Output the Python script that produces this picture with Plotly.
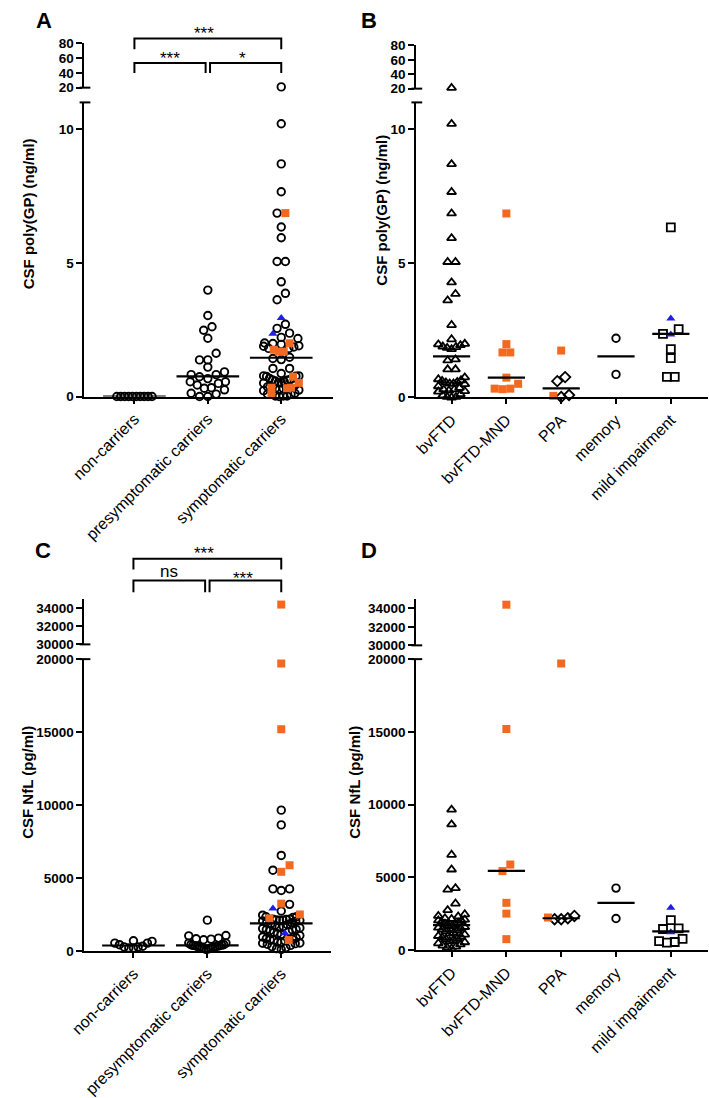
import plotly.graph_objects as go

# ---------------- data ----------------
carrier_cats = ["non-carriers", "presymptomatic carriers", "symptomatic carriers"]
pheno_cats = ["bvFTD", "bvFTD-MND", "PPA", "memory", "mild impairment"]

# CSF poly(GP) (ng/ml)
gp_noncarriers = [0, 0, 0, 0, 0, 0, 0, 0, 0, 0]
gp_presymptomatic = [3.98, 3.03, 2.61, 2.48, 2.18, 1.62, 1.37, 1.37, 1.10, 0.92, 0.82, 0.82,
                     0.74, 0.67, 0.55, 0.55, 0.49, 0.43, 0.33, 0.31, 0.25, 0.12, 0.09, 0.0, 0.0]
gp_bvftd = [21.0, 10.2, 8.70, 7.66, 6.86, 5.94, 5.05, 5.05, 4.29, 3.86, 3.62, 2.70, 2.17,
            2.00, 1.98, 1.95, 1.90, 1.88, 1.85, 1.80, 1.42, 1.38, 1.05, 1.05,
            0.75, 0.68, 0.62, 0.56, 0.52, 0.50, 0.52, 0.58, 0.64,
            0.42, 0.36, 0.30, 0.26, 0.22, 0.24, 0.30, 0.12, 0.08, 0.02, 0.0, 0.02]
gp_mnd = [6.86, 1.99, 1.68, 1.68, 0.74, 0.51, 0.33, 0.31, 0.33]
gp_ppa = [0.76, 0.61, 0.09, 0.02]
gp_ppa_mnd = [1.75, 0.06]
gp_memory = [2.21, 0.86]
gp_mild = [6.34, 2.55, 2.37, 1.80, 1.47, 0.77, 0.77]
gp_mild_tri = [2.94, 2.35]
gp_med_carriers = [0, 0.75, 1.45]
gp_med_pheno = [1.53, 0.74, 0.34, 1.53, 2.37]

# CSF NfL (pg/ml)
nfl_noncarriers = [720, 675, 560, 560, 450, 340, 300, 290, 225, 225]
nfl_presymptomatic = [2130, 1080, 1055, 900, 855, 830, 790, 560, 560, 450, 450, 420, 400,
                      380, 380, 340, 335, 290, 290, 250, 225, 225, 180, 160, 120]
nfl_bvftd = [9660, 8650, 6560, 5550, 4270, 4160, 3210, 2760, 2470, 2360,
             2320, 2200, 2150, 2100, 2050, 2020, 1950, 1880, 1820, 1780,
             1700, 1650, 1600, 1550, 1480, 1420, 1350, 1300, 1200, 1150,
             1080, 980, 920, 870, 820, 760, 700, 620, 550, 480,
             400, 320, 250, 180, 120]
nfl_mnd = [34400, 15200, 5890, 5440, 3260, 2520, 765]
nfl_ppa = [2360, 2200, 2135, 2135]
nfl_ppa_mnd = [19700, 2250]
nfl_memory = [4270, 2180]
nfl_mild = [2070, 1460, 1500, 790, 630, 520, 570]
nfl_mild_tri = [2920, 1235]
nfl_med_carriers = [395, 404, 1914]
nfl_med_pheno = [1730, 5460, 2200, 3260, 1300]

# ---------------- styling helpers ----------------
W, H = 709, 1098
FONT = "Arial, Liberation Sans, sans-serif"
ORANGE = "#F26A21"
BLUE = "#1E1EE6"


def px(x):
    return x / W


def py(y):
    return 1 - y / H


STY = {
    "circle": dict(symbol="circle-open", size=7.5, color="black", line=dict(width=1.9, color="black")),
    "tri": dict(symbol="triangle-up-open", size=8, color="black", line=dict(width=1.8, color="black")),
    "diamond": dict(symbol="diamond-open", size=8, color="black", line=dict(width=1.8, color="black")),
    "square": dict(symbol="square-open", size=8, color="black", line=dict(width=1.8, color="black")),
    "orange": dict(symbol="square", size=8, color=ORANGE, line=dict(width=0)),
    "blue": dict(symbol="triangle-up", size=8, color=BLUE, line=dict(width=0)),
}


def swarm(vals, ppu, d, wmax, h=7.0):
    # row based dot layout, lowest value of a row in the middle
    order = sorted(range(len(vals)), key=lambda k: vals[k])
    offs = [0.0] * len(vals)
    i = 0
    while i < len(order):
        base = vals[order[i]] * ppu
        row = [order[i]]
        j = i + 1
        while j < len(order) and vals[order[j]] * ppu - base < h:
            row.append(order[j])
            j += 1
        n = len(row)
        s = d if n == 1 else min(d, wmax / (n - 1))
        slots = sorted([(k - (n - 1) / 2) * s for k in range(n)], key=lambda v: (abs(v), v))
        for r, sl in zip(row, slots):
            offs[r] = sl
        i = j
    return offs


fig = go.Figure()
shapes = []
annotations = []


def panel(n, cats, groups, medians, c):
    xname = "x" if n == 1 else "x%d" % n
    yb, yt = 2 * n - 1, 2 * n
    ybname = "y" if yb == 1 else "y%d" % yb
    ytname = "y%d" % yt
    ppu = (c["y0"] - c["y1"]) / (c["yr"][1] - c["yr"][0])
    sp = c["sp"]
    # points
    for ci in range(len(cats)):
        items = [(v, key) for (gi, vals, key) in groups if gi == ci for v in vals]
        vals = [v for v, _ in items]
        offs = swarm(vals, ppu, c["d"], c["wmax"])
        for key in STY:
            xs_b, ys_b, xs_t, ys_t = [], [], [], []
            for (v, k), o in zip(items, offs):
                if k != key:
                    continue
                if v > c["brk"]:
                    xs_t.append(ci)
                    ys_t.append(v)
                else:
                    xs_b.append(ci + o / sp)
                    ys_b.append(v)
            if xs_b:
                fig.add_trace(go.Scatter(x=xs_b, y=ys_b, mode="markers", marker=STY[key],
                                         xaxis=xname, yaxis=ybname, cliponaxis=False,
                                         showlegend=False, hoverinfo="y"))
            if xs_t:
                fig.add_trace(go.Scatter(x=xs_t, y=ys_t, mode="markers", marker=STY[key],
                                         xaxis=xname, yaxis=ytname, cliponaxis=False,
                                         showlegend=False, hoverinfo="y"))
    # median lines
    hw = c["mw"] / sp
    for ci, m in enumerate(medians):
        fig.add_trace(go.Scatter(x=[ci - hw, ci + hw], y=[m, m], mode="lines",
                                 line=dict(color="black", width=2.2), xaxis=xname, yaxis=ybname,
                                 cliponaxis=False, showlegend=False, hoverinfo="skip"))
    # axes
    tickfont = dict(family=FONT, size=13.5, color="black", weight="bold")
    xr = [(c["ax"] - c["c0"]) / sp, (c["right"] - c["c0"]) / sp]
    fig.layout["xaxis" if n == 1 else "xaxis%d" % n] = dict(
        domain=[px(c["ax"]), px(c["right"])], range=xr, anchor=ybname,
        tickvals=list(range(len(cats))), ticktext=cats, tickangle=-45,
        tickfont=dict(family=FONT, size=16, color="black"),
        showline=True, linewidth=2, linecolor="black", ticks="outside", ticklen=5,
        tickwidth=1.5, tickcolor="black", showgrid=False, zeroline=False)
    fig.layout["yaxis" if yb == 1 else "yaxis%d" % yb] = dict(
        domain=[py(c["y0"]), py(c["y1"])], range=c["yr"], anchor=xname,
        tickvals=c["yt"], tickformat="d", tickfont=tickfont,
        showline=True, linewidth=2, linecolor="black", ticks="outside", ticklen=6,
        tickwidth=2, tickcolor="black", showgrid=False, zeroline=False)
    fig.layout["yaxis%d" % yt] = dict(
        domain=[py(c["ty0"]), py(c["ty1"])], range=c["tyr"], anchor=xname,
        tickvals=c["tyt"], tickformat="d", tickfont=tickfont,
        showline=True, linewidth=2, linecolor="black", ticks="outside", ticklen=6,
        tickwidth=2, tickcolor="black", showgrid=False, zeroline=False)
    # break caps
    for yy in (c["y1"], c["ty0"]):
        shapes.append(dict(type="line", xref="paper", yref="paper",
                           x0=px(c["ax"] - 5), x1=px(c["ax"] + 6), y0=py(yy), y1=py(yy),
                           line=dict(color="black", width=2)))
    return xname


cfg_a = dict(ax=71, right=325, c0=122, sp=75, y0=396, y1=97, yr=[0, 11], yt=[0, 5, 10],
             ty0=82, ty1=37, tyr=[20, 80], tyt=[20, 40, 60, 80], brk=11, d=8.5, wmax=36, mw=32)
cfg_b = dict(ax=410, right=708, c0=446, sp=56, y0=397, y1=97, yr=[0, 11], yt=[0, 5, 10],
             ty0=83, ty1=39, tyr=[20, 80], tyt=[20, 40, 60, 80], brk=11, d=8, wmax=27, mw=19)
cfg_c = dict(ax=71, right=323, c0=121, sp=75.5, y0=960, y1=663, yr=[0, 20000],
             yt=[0, 5000, 10000, 15000, 20000], ty0=648, ty1=602, tyr=[30000, 35000],
             tyt=[30000, 32000, 34000], brk=20000, d=8.5, wmax=38, mw=32)
cfg_d = dict(ax=410, right=708, c0=446, sp=56, y0=959, y1=663, yr=[0, 20000],
             yt=[0, 5000, 10000, 15000, 20000], ty0=649, ty1=602, tyr=[30000, 35000],
             tyt=[30000, 32000, 34000], brk=20000, d=8, wmax=27, mw=19)

panel(1, carrier_cats,
      [(0, gp_noncarriers, "circle"), (1, gp_presymptomatic, "circle"),
       (2, gp_bvftd + gp_ppa + gp_memory + gp_mild, "circle"),
       (2, gp_mnd + gp_ppa_mnd, "orange"), (2, gp_mild_tri, "blue")],
      gp_med_carriers, cfg_a)
panel(2, pheno_cats,
      [(0, gp_bvftd, "tri"), (1, gp_mnd, "orange"), (2, gp_ppa, "diamond"),
       (2, gp_ppa_mnd, "orange"), (3, gp_memory, "circle"), (4, gp_mild, "square"),
       (4, gp_mild_tri, "blue")],
      gp_med_pheno, cfg_b)
panel(3, carrier_cats,
      [(0, nfl_noncarriers, "circle"), (1, nfl_presymptomatic, "circle"),
       (2, nfl_bvftd + nfl_ppa + nfl_memory + nfl_mild, "circle"),
       (2, nfl_mnd + nfl_ppa_mnd, "orange"), (2, nfl_mild_tri, "blue")],
      nfl_med_carriers, cfg_c)
panel(4, pheno_cats,
      [(0, nfl_bvftd, "tri"), (1, nfl_mnd, "orange"), (2, nfl_ppa, "diamond"),
       (2, nfl_ppa_mnd, "orange"), (3, nfl_memory, "circle"), (4, nfl_mild, "square"),
       (4, nfl_mild_tri, "blue")],
      nfl_med_pheno, cfg_d)


# significance brackets
def bracket(xref, xa, xb, ytop, ybot):
    shapes.append(dict(type="path", xref=xref, yref="paper",
                       path="M %f,%f L %f,%f L %f,%f L %f,%f" % (xa, py(ybot), xa, py(ytop),
                                                                xb, py(ytop), xb, py(ybot)),
                       line=dict(color="black", width=2)))


def label(text, xref, x, y, size):
    annotations.append(dict(text=text, xref=xref, yref="paper", x=x, y=py(y), showarrow=False,
                            font=dict(family=FONT, size=size, color="black"),
                            xanchor="center", yanchor="middle"))


bracket("x", 0, 2, 32, 43)
bracket("x", 0, 0.97, 57, 67)
bracket("x", 1.03, 2, 57, 67)
label("***", "x", 0.95, 27, 17)
label("***", "x", 0.48, 52, 17)
label("*", "x", 1.47, 52, 17)

bracket("x3", 0, 2, 561, 572)
bracket("x3", 0, 0.97, 583, 595)
bracket("x3", 1.03, 2, 583, 595)
label("***", "x3", 0.95, 556, 17)
label("ns", "x3", 0.48, 574, 17)
label("***", "x3", 1.48, 581, 17)

# axis titles and panel letters
for txt, x, y in [("CSF poly(GP) (ng/ml)", 14, 210), ("CSF poly(GP) (ng/ml)", 375, 207),
                  ("CSF NfL (pg/ml)", 12, 788), ("CSF NfL (pg/ml)", 346, 788)]:
    annotations.append(dict(text=txt, xref="paper", yref="paper", x=px(x), y=py(y),
                            textangle=-90, showarrow=False, xanchor="center", yanchor="middle",
                            font=dict(family=FONT, size=15, color="black", weight="bold")))
for txt, x, y in [("A", 30, 14), ("B", 362, 14), ("C", 29, 553), ("D", 362, 553)]:
    annotations.append(dict(text=txt, xref="paper", yref="paper", x=px(x), y=py(y),
                            showarrow=False, xanchor="center", yanchor="middle",
                            font=dict(family=FONT, size=22, color="black", weight="bold")))

fig.update_layout(width=W, height=H, margin=dict(l=0, r=0, t=0, b=0),
                  paper_bgcolor="white", plot_bgcolor="white",
                  shapes=shapes, annotations=annotations, showlegend=False)
fig.write_html("out.html", config={"displayModeBar": False},
               post_script="document.body.style.margin='0';")
